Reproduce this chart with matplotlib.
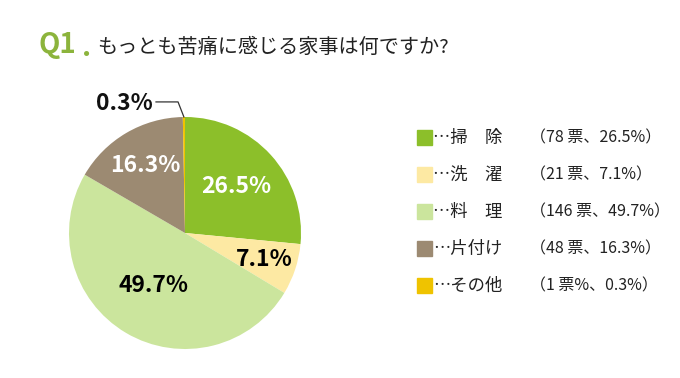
import numpy as np
import matplotlib.pyplot as plt

plt.rcParams['font.family'] = ['Noto Sans CJK JP', 'DejaVu Sans']

categories = ['掃　除', '洗　濯', '料　理', '片付け', 'その他']
votes = [78, 21, 146, 48, 1]
shares = [26.5, 7.1, 49.7, 16.3, 0.3]
vote_labels = ['（78 票、26.5%）', '（21 票、7.1%）', '（146 票、49.7%）',
               '（48 票、16.3%）', '（1 票%、0.3%）']
colors = ['#8cbf2a', '#fde9a3', '#cbe59d', '#9c8a72', '#efc300']
label_colors = ['white', 'black', 'black', 'white', 'black']
label_dist = [0.6, 0.72, 0.53, 0.68, None]

fig = plt.figure(figsize=(6.8, 3.78), dpi=100)
W, H = 680, 378

# title
fig.text(39 / W, 1 - 45 / H, 'Q1', color='#8cb43c', fontsize=20, fontweight='bold',
         va='center', ha='left')
fig.text(82 / W, 1 - 48 / H, '.', color='#8cb43c', fontsize=20, fontweight='bold',
         va='center', ha='left')
fig.text(97 / W, 1 - 47 / H, 'もっとも苦痛に感じる家事は何ですか?', color='#222222',
         fontsize=14.5, va='center', ha='left')

# pie
cx, cy, r = 185, 233, 116
ax = fig.add_axes([(cx - r) / W, (H - cy - r) / H, 2 * r / W, 2 * r / H])
wedges, _ = ax.pie(shares, colors=colors, startangle=90, counterclock=False,
                   radius=1, wedgeprops=dict(linewidth=0))
ax.set_xlim(-1, 1)
ax.set_ylim(-1, 1)
ax.set_aspect('equal')
ax.axis('off')

for w, s, d, c in zip(wedges, shares, label_dist, label_colors):
    if d is None:
        continue
    ang = np.deg2rad((w.theta1 + w.theta2) / 2)
    ax.text(d * np.cos(ang), d * np.sin(ang), f'{s}%', color=c, fontsize=16.5,
            fontweight='bold', ha='center', va='center')

# small slice callout
w = wedges[4]
ang = np.deg2rad((w.theta1 + w.theta2) / 2)
px, py = np.cos(ang), np.sin(ang)
ax.plot([-0.25, -0.06, px], [1.13, 1.13, py], color='#333333', lw=0.9, clip_on=False)
ax.text(-0.28, 1.12, f'{shares[4]}%', color='#111111', fontsize=16.5, fontweight='bold',
        ha='right', va='center')

# legend
for i, (cat, vl, col) in enumerate(zip(categories, vote_labels, colors)):
    y = 1 - (138 + 37 * i) / H
    fig.patches.append(plt.Rectangle((417 / W, y - 7 / H), 15 / W, 15 / H,
                                     transform=fig.transFigure, color=col))
    fig.text(433 / W, y, '…' + cat, fontsize=12.5, color='#222222', va='center', ha='left')
    fig.text(530 / W, y, vl, fontsize=11.5, color='#222222', va='center', ha='left')

fig.savefig('out.png', dpi=100, facecolor='white')
